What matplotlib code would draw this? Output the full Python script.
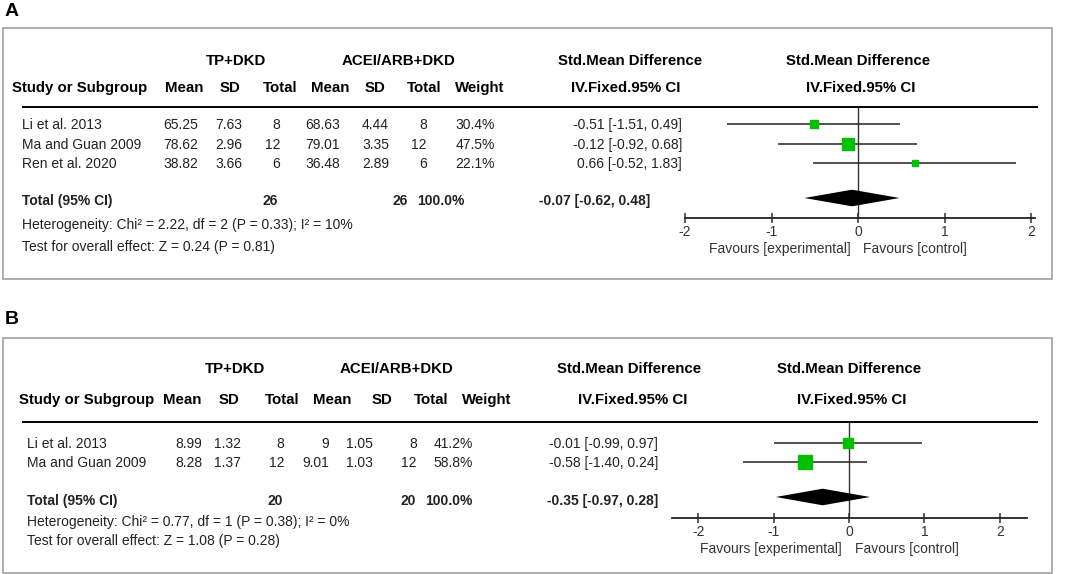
import matplotlib
matplotlib.use("Agg")
import matplotlib.pyplot as plt
from matplotlib.patches import Rectangle

plt.rcParams['font.family'] = ['Liberation Sans', 'DejaVu Sans']

# ---- data ---------------------------------------------------------------
studies_a = ["Li et al. 2013", "Ma and Guan 2009", "Ren et al. 2020"]
tp_mean_a = [65.25, 78.62, 38.82]
tp_sd_a = [7.63, 2.96, 3.66]
tp_n_a = [8, 12, 6]
ac_mean_a = [68.63, 79.01, 36.48]
ac_sd_a = [4.44, 3.35, 2.89]
ac_n_a = [8, 12, 6]
weight_a = [30.4, 47.5, 22.1]
smd_a = [-0.51, -0.12, 0.66]
lo_a = [-1.51, -0.92, -0.52]
hi_a = [0.49, 0.68, 1.83]
total_a = (-0.07, -0.62, 0.48)
het_a = "Heterogeneity: Chi\u00b2 = 2.22, df = 2 (P = 0.33); I\u00b2 = 10%"
test_a = "Test for overall effect: Z = 0.24 (P = 0.81)"

studies_b = ["Li et al. 2013", "Ma and Guan 2009"]
tp_mean_b = [8.99, 8.28]
tp_sd_b = [1.32, 1.37]
tp_n_b = [8, 12]
ac_mean_b = [9, 9.01]
ac_sd_b = [1.05, 1.03]
ac_n_b = [8, 12]
weight_b = [41.2, 58.8]
smd_b = [-0.01, -0.58]
lo_b = [-0.99, -1.40]
hi_b = [0.97, 0.24]
total_b = (-0.35, -0.97, 0.28)
het_b = "Heterogeneity: Chi\u00b2 = 0.77, df = 1 (P = 0.38); I\u00b2 = 0%"
test_b = "Test for overall effect: Z = 1.08 (P = 0.28)"

ticks = [-2, -1, 0, 1, 2]
tick_labels = ["-2", "-1", "0", "1", "2"]
col_heads = ["Mean", "SD", "Total", "Mean", "SD", "Total", "Weight"]

W, H = 1065, 574
GREEN = "#00c000"
TXT = "#222222"


def draw_panel(fig, bg, label, studies, cols, weights, smd, lo, hi, total,
               het, test, L):
    # frame and panel letter
    bg.add_patch(Rectangle((3, L['box'][0]), 1049, L['box'][1] - L['box'][0],
                           fill=False, ec="#a0a0a0", lw=1.2))
    bg.text(5, L['letter'], label, fontsize=14, fontweight='bold',
            ha='left', va='center')

    hb = dict(fontsize=10.8, fontweight='bold', va='center', color='black')
    bg.text(L['grp'][0], L['h1'], "TP+DKD", ha='center', **hb)
    bg.text(L['grp'][1], L['h1'], "ACEI/ARB+DKD", ha='center', **hb)
    bg.text(L['smd_c'], L['h1'], "Std.Mean Difference", ha='center', **hb)
    bg.text(L['zero'], L['h1'], "Std.Mean Difference", ha='center', **hb)
    bg.text(L['study_h'], L['h2'], "Study or Subgroup", ha='left', **hb)
    for x, t in zip(L['head_c'], col_heads):
        bg.text(x, L['h2'], t, ha='center', **hb)
    bg.text(L['iv_c'], L['h2'], "IV.Fixed.95% CI", ha='center', **hb)
    bg.text(L['zero'] + 3, L['h2'], "IV.Fixed.95% CI", ha='center', **hb)
    bg.hlines(L['line'], 22, 1038, color='black', lw=1.4)

    # study rows
    rt = dict(fontsize=10, va='center', color=TXT)
    for i, name in enumerate(studies):
        y = L['rows'][i]
        bg.text(L['study'], y, name, ha='left', **rt)
        vals = [f"{c[i]:g}" for c in cols[:6]] + [f"{weights[i]:.1f}%"]
        for x, v in zip(L['val_r'], vals):
            bg.text(x, y, v, ha='right', **rt)
        bg.text(L['ci_r'], y, f"{smd[i]:.2f} [{lo[i]:.2f}, {hi[i]:.2f}]",
                ha='right', **rt)

    # total row
    tb = dict(fontsize=10, fontweight='bold', va='center', color=TXT)
    yt = L['total']
    bg.text(L['study'], yt, "Total (95% CI)", ha='left', **tb)
    bg.text(L['tot_r'][0], yt, f"{sum(cols[2])}", ha='right', **tb)
    bg.text(L['tot_r'][1], yt, f"{sum(cols[5])}", ha='right', **tb)
    bg.text(L['tot_r'][2], yt, f"{sum(weights):.1f}%", ha='right', **tb)
    bg.text(L['ci_r'] - L['tot_ci_shift'], yt,
            f"{total[0]:.2f} [{total[1]:.2f}, {total[2]:.2f}]",
            ha='right', **tb)
    bg.text(L['study'], L['het'], het, ha='left', **rt)
    bg.text(L['study'], L['test'], test, ha='left', **rt)

    # forest plot axes: x in effect units, y in figure pixels
    xa, xb = 655, 1050
    ax = fig.add_axes([xa / W, 0, (xb - xa) / W, 1])
    ax.set_xlim((xa - L['zero']) / L['unit'], (xb - L['zero']) / L['unit'])
    ax.set_ylim(H, 0)
    ax.patch.set_visible(False)
    for s in ['top', 'left', 'right']:
        ax.spines[s].set_visible(False)
    ax.yaxis.set_visible(False)
    ax.spines['bottom'].set_position(('data', L['axis']))
    ax.spines['bottom'].set_bounds(*L['axis_bounds'])
    ax.spines['bottom'].set_linewidth(1.3)
    ax.spines['bottom'].set_color('#222222')
    ax.set_xticks(ticks)
    ax.set_xticklabels(tick_labels)
    ax.tick_params(axis='x', direction='inout', length=7, width=1.1,
                   colors='#333333', labelsize=10, pad=1.5)

    ax.vlines(0, L['line'], L['axis'], color='#333333', lw=1.0)
    for i in range(len(studies)):
        y = L['rows'][i] - 1
        ax.hlines(y, lo[i], hi[i], color='#222222', lw=1.1)
        side_px = 0.64 * weights[i] ** 0.75
        ax.plot(smd[i], y, 's', color=GREEN, mec=GREEN,
                ms=side_px * 72 / 100, zorder=3)
    yd, hd = L['diamond'], 8.3
    ax.fill([total[1], total[0], total[2], total[0]],
            [yd, yd - hd, yd, yd + hd], color='black', lw=0, zorder=3)

    ft = dict(fontsize=10, va='center', color='#333333')
    bg.text(L['fav'][0], L['fav_y'], "Favours [experimental]", ha='right', **ft)
    bg.text(L['fav'][1], L['fav_y'], "Favours [control]", ha='left', **ft)


fig = plt.figure(figsize=(W / 100, H / 100), dpi=100)
bg = fig.add_axes([0, 0, 1, 1])
bg.set_xlim(0, W)
bg.set_ylim(H, 0)
bg.axis('off')

layout_a = dict(box=(28, 279), letter=11, h1=61, h2=88, line=107,
                rows=[125, 145, 164], total=201, het=225, test=247,
                study_h=12, study=22,
                grp=(236, 398), head_c=[184, 230, 280, 330, 375, 424, 480],
                val_r=[198, 242, 280, 340, 389, 427, 495],
                tot_r=[278, 408, 465], ci_r=682, tot_ci_shift=32,
                smd_c=630, iv_c=626,
                zero=858, unit=86.5, axis=218, axis_bounds=(-2.0, 2.05),
                diamond=198, fav=(851, 863), fav_y=249)

layout_b = dict(box=(338, 573), letter=320, h1=369, h2=400, line=422,
                rows=[444, 463], total=501, het=522, test=541,
                study_h=19, study=27,
                grp=(235, 397), head_c=[182, 229, 282, 332, 382, 431, 487],
                val_r=[202, 241, 284, 329, 373, 417, 473],
                tot_r=[283, 416, 473], ci_r=658, tot_ci_shift=0,
                smd_c=629, iv_c=633,
                zero=849, unit=75.4, axis=518, axis_bounds=(-2.35, 2.36),
                diamond=497, fav=(842, 855), fav_y=549)

draw_panel(fig, bg, "A", studies_a,
           [tp_mean_a, tp_sd_a, tp_n_a, ac_mean_a, ac_sd_a, ac_n_a],
           weight_a, smd_a, lo_a, hi_a, total_a, het_a, test_a, layout_a)
draw_panel(fig, bg, "B", studies_b,
           [tp_mean_b, tp_sd_b, tp_n_b, ac_mean_b, ac_sd_b, ac_n_b],
           weight_b, smd_b, lo_b, hi_b, total_b, het_b, test_b, layout_b)

fig.savefig("out.png", dpi=100)
